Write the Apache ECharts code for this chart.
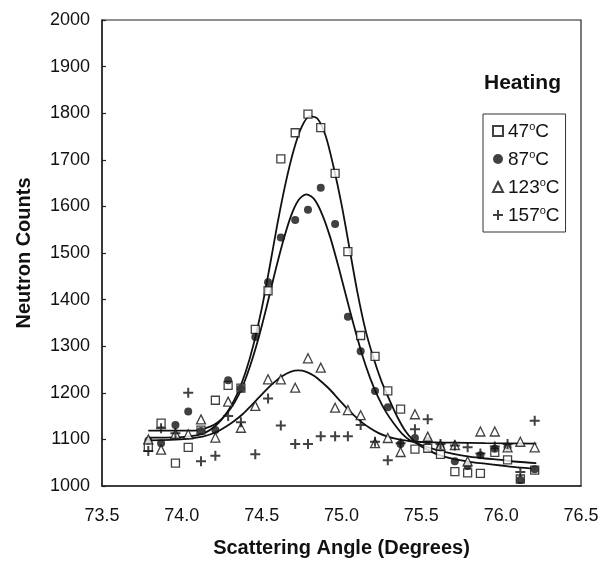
<!DOCTYPE html>
<html>
<head>
<meta charset="utf-8">
<script src="https://cdn.jsdelivr.net/npm/echarts@6/dist/echarts.min.js"></script>
<style>
html,body{margin:0;padding:0;background:#fff;}
#c{width:612px;height:563px;}
</style>
</head>
<body>
<div id="c"></div>
<script>
// Scattering angles (degrees) of the measured points
const angles = [73.79,73.87,73.96,74.04,74.12,74.21,74.29,74.37,74.46,74.54,74.62,74.71,74.79,74.87,74.96,75.04,75.12,75.21,75.29,75.37,75.46,75.54,75.62,75.71,75.79,75.87,75.96,76.04,76.12,76.21];
// Neutron counts
const c47  = [1083,1135,1049,1083,1120,1184,1216,1210,1336,1419,1702,1758,1798,1769,1671,1503,1323,1278,1204,1165,1079,1081,1068,1031,1028,1027,1072,1056,1015,1034];
const c87  = [1097,1092,1131,1160,1118,1120,1227,1209,1320,1437,1533,1571,1593,1640,1562,1363,1289,1204,1169,1090,1103,1097,1083,1053,1043,1066,1080,1083,1013,1036];
const c123 = [1100,1078,1112,1111,1143,1104,1181,1125,1172,1229,1229,1211,1274,1254,1168,1163,1152,1092,1103,1073,1154,1106,1087,1088,1053,1117,1117,1083,1095,1083];
const c157 = [1075,1124,1113,1200,1053,1065,1150,1137,1068,1188,1130,1090,1090,1107,1107,1107,1131,1095,1055,1092,1122,1143,1090,1087,1083,1070,1085,1090,1030,1140];

// Fitted curves
const fit47x = [73.79,73.9,74.0,74.1,74.15,74.2,74.25,74.3,74.35,74.4,74.45,74.5,74.55,74.6,74.65,74.7,74.75,74.8,74.85,74.9,74.95,75.0,75.05,75.1,75.15,75.2,75.25,75.3,75.35,75.4,75.45,75.5,75.55,75.6,75.7,75.8,75.9,76.0,76.1,76.22];
const fit47y = [1104,1104,1105,1109,1115,1126,1143,1167,1200,1245,1305,1380,1470,1565,1650,1720,1770,1793,1788,1752,1685,1605,1510,1415,1335,1275,1225,1185,1148,1118,1098,1085,1076,1068,1058,1052,1048,1044,1040,1037];
const fit87x = [73.79,73.98,74.08,74.18,74.23,74.28,74.33,74.38,74.43,74.48,74.53,74.58,74.63,74.68,74.73,74.78,74.83,74.88,74.93,74.98,75.03,75.08,75.13,75.18,75.23,75.28,75.33,75.38,75.43,75.5,75.6,75.7,75.8,75.9,76.0,76.1,76.22];
const fit87y = [1119,1119,1119,1128,1138,1155,1179,1213,1260,1317,1383,1454,1520,1576,1613,1626,1615,1582,1533,1472,1406,1341,1281,1231,1190,1158,1133,1112,1098,1088,1077,1069,1063,1059,1056,1052,1049];
const fit123x = [73.79,73.93,74.03,74.13,74.18,74.23,74.28,74.33,74.38,74.43,74.48,74.53,74.58,74.63,74.68,74.73,74.78,74.83,74.88,74.93,74.98,75.03,75.08,75.13,75.18,75.23,75.28,75.33,75.43,75.53,75.7,75.9,76.22];
const fit123y = [1098,1099,1101,1106,1111,1118,1128,1140,1154,1171,1189,1207,1223,1236,1245,1248,1245,1236,1222,1206,1187,1168,1151,1136,1124,1114,1107,1102,1096,1094,1093,1092,1091];

const xTicks = ['73.5','74.0','74.5','75.0','75.5','76.0','76.5'];
const names = ['47°C','87°C','123°C','157°C'];
const legendRich = {'47°C':'{n|47}{s|o}{n|C}','87°C':'{n|87}{s|o}{n|C}','123°C':'{n|123}{s|o}{n|C}','157°C':'{n|157}{s|o}{n|C}'};

const zip = (xs, ys) => xs.map((x, i) => [x, ys[i]]);
const FONT = 'Liberation Sans, Arial, sans-serif';
const plusPath = 'path://M4,0H6V4H10V6H6V10H4V6H0V4H4Z';

const chart = echarts.init(document.getElementById('c'), null, {renderer: 'canvas'});
const fitLine = (x, y, nm) => ({
  name: nm, type: 'line', data: zip(x, y), smooth: 0.3, showSymbol: false, symbol: 'none',
  lineStyle: {color: '#111', width: 1.8}, z: 2, silent: true
});
chart.setOption({
  animation: false,
  backgroundColor: '#fff',
  title: {text: 'Heating', left: 479, top: 68,
    textStyle: {fontFamily: FONT, fontWeight: 'bold', fontSize: 21, color: '#111'}},
  grid: {left: 102, right: 31, top: 20, bottom: 75, show: true, borderColor: '#222', borderWidth: 1.2, backgroundColor: 'transparent'},
  legend: {
    data: names, orient: 'vertical', left: 483, top: 114,
    borderColor: '#333', borderWidth: 1, padding: [7, 6, 7, 9], itemGap: 8,
    itemWidth: 10, itemHeight: 10,
    formatter: n => legendRich[n],
    textStyle: {fontFamily: FONT, color: '#111', fontSize: 19,
      rich: {n: {fontFamily: FONT, fontSize: 19, lineHeight: 20, color: '#111', verticalAlign: 'bottom'},
             s: {fontFamily: FONT, fontSize: 11, lineHeight: 10, color: '#111', verticalAlign: 'top'}}}
  },
  xAxis: {
    type: 'value', min: 73.5, max: 76.5, interval: 0.5,
    axisLine: {show: true, lineStyle: {color: '#222', width: 1.5}},
    axisTick: {show: false},
    splitLine: {show: false},
    axisLabel: {fontFamily: FONT, fontSize: 18, color: '#111', margin: 21,
      formatter: v => xTicks[Math.round((v - 73.5) / 0.5)] || v.toFixed(1)},
    name: 'Scattering Angle (Degrees)', nameLocation: 'middle', nameGap: 52,
    nameTextStyle: {fontFamily: FONT, fontWeight: 'bold', fontSize: 20, color: '#111'}
  },
  yAxis: {
    type: 'value', min: 1000, max: 2000, interval: 100,
    axisLine: {show: true, lineStyle: {color: '#222', width: 1.5}},
    axisTick: {show: true, inside: true, length: 4, lineStyle: {color: '#222', width: 1.2}},
    splitLine: {show: false},
    axisLabel: {fontFamily: FONT, fontSize: 18, color: '#111', margin: 12, formatter: v => String(v)},
    name: 'Neutron Counts', nameLocation: 'middle', nameGap: 68, nameRotate: 90,
    nameTextStyle: {fontFamily: FONT, fontWeight: 'bold', fontSize: 20, color: '#111'}
  },
  series: [
    fitLine(fit47x, fit47y, 'fit47'),
    fitLine(fit87x, fit87y, 'fit87'),
    fitLine(fit123x, fit123y, 'fit123'),
    {name: names[0], type: 'scatter', data: zip(angles, c47), symbol: 'rect', symbolSize: 8,
     itemStyle: {color: '#fff', borderColor: '#111', borderWidth: 1.3}, z: 5},
    {name: names[1], type: 'scatter', data: zip(angles, c87), symbol: 'circle', symbolSize: 8,
     itemStyle: {color: '#111', borderColor: '#111', borderWidth: 0}, z: 5},
    {name: names[2], type: 'scatter', data: zip(angles, c123), symbol: 'triangle', symbolSize: 9,
     itemStyle: {color: '#fff', borderColor: '#111', borderWidth: 1.3}, z: 5},
    {name: names[3], type: 'scatter', data: zip(angles, c157), symbol: plusPath, symbolSize: 10,
     itemStyle: {color: '#111', borderWidth: 0}, z: 5}
  ]
});
</script>
</body>
</html>
